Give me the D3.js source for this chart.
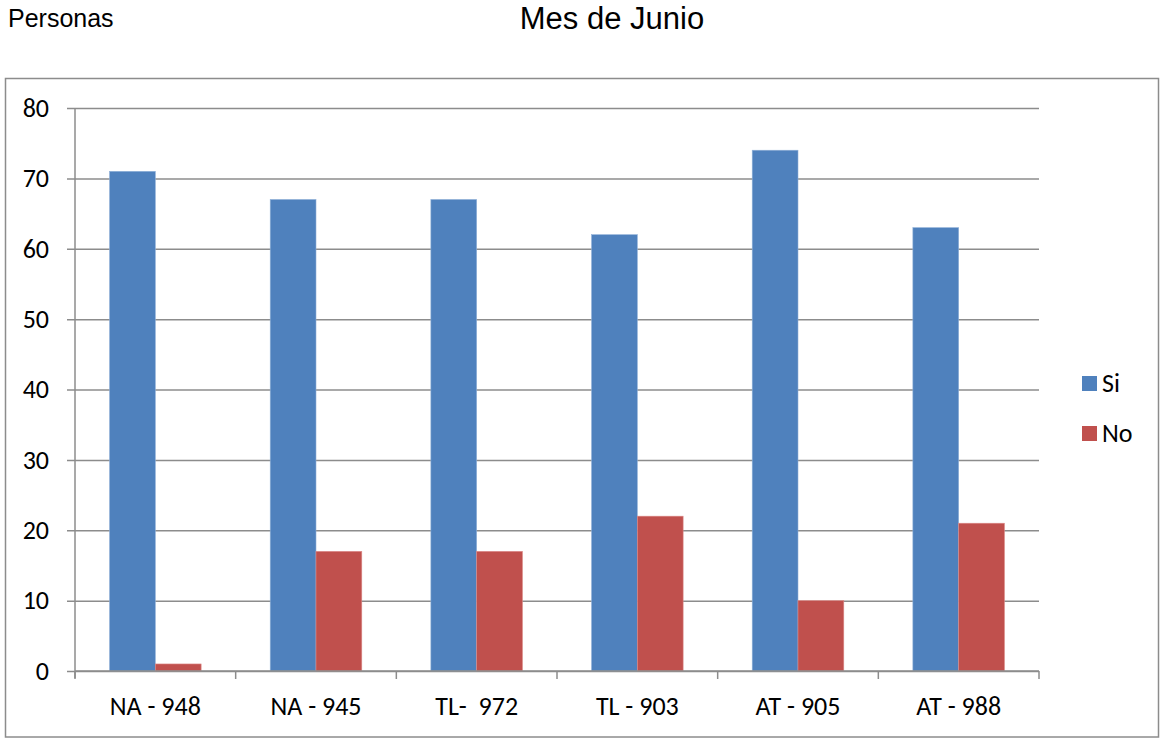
<!DOCTYPE html>
<html>
<head>
<meta charset="utf-8">
<script src="https://cdn.jsdelivr.net/npm/d3@7"></script>
<style>
  html, body { margin: 0; padding: 0; background: #fff; }
  svg { display: block; }
</style>
</head>
<body>
<svg id="chart" width="1160" height="739"></svg>
<script>
// Responses per route for June
const categories = ["NA - 948", "NA - 945", "TL-  972", "TL - 903", "AT - 905", "AT - 988"];
const seriesNames = ["Si", "No"];
const siValues = [71, 67, 67, 62, 74, 63];
const noValues = [1, 17, 17, 22, 10, 21];
const yTicks = [0, 10, 20, 30, 40, 50, 60, 70, 80];
const colors = ["#4F81BD", "#C0504D"];

const svg = d3.select("#chart");
const plot = { left: 75, right: 1039, top: 108, bottom: 671 };
const labelFont = "Carlito, Lato, 'Open Sans', sans-serif";
const labelSize = 26;

// outer frame
svg.append("rect")
  .attr("x", 5.5).attr("y", 78.5)
  .attr("width", 1153).attr("height", 658.5)
  .attr("fill", "none").attr("stroke", "#8c8c8c").attr("stroke-width", 1.5);

// titles
svg.append("text")
  .attr("x", 8).attr("y", 27)
  .attr("font-family", "'Liberation Sans', Arial, sans-serif")
  .attr("font-size", 25).attr("fill", "#000")
  .text("Personas");
svg.append("text")
  .attr("x", 612).attr("y", 29)
  .attr("text-anchor", "middle")
  .attr("font-family", "'Liberation Sans', Arial, sans-serif")
  .attr("font-size", 31).attr("fill", "#000")
  .text("Mes de Junio");

const y = d3.scaleLinear().domain([0, 80]).range([plot.bottom, plot.top]);
const x0 = d3.scaleBand().domain(categories).range([plot.left, plot.right]).paddingInner(0.43).paddingOuter(0.215);
const x1 = d3.scaleBand().domain(seriesNames).range([0, x0.bandwidth()]);

// gridlines with tick stubs on the left
const yAxis = d3.axisLeft(y).tickValues(yTicks).tickSize(-(plot.right - plot.left)).tickPadding(26);
const gy = svg.append("g").attr("transform", `translate(${plot.left},0)`).call(yAxis);
gy.select(".domain").remove();
gy.selectAll(".tick line")
  .attr("x1", -8)
  .attr("stroke", "#8c8c8c").attr("stroke-width", 1.5);
gy.selectAll(".tick text")
  .attr("font-family", labelFont).attr("font-size", labelSize).attr("fill", "#000");

// vertical axis line
svg.append("line")
  .attr("x1", plot.left).attr("x2", plot.left)
  .attr("y1", plot.top).attr("y2", plot.bottom + 7)
  .attr("stroke", "#8c8c8c").attr("stroke-width", 1.5);

// bars
const rows = categories.map((c, i) => ({ cat: c, vals: [siValues[i], noValues[i]] }));
const groups = svg.append("g").selectAll("g").data(rows).join("g")
  .attr("transform", d => `translate(${x0(d.cat)},0)`);
groups.selectAll("rect")
  .data(d => d.vals.map((v, j) => ({ key: seriesNames[j], v, j })))
  .join("rect")
  .attr("x", d => x1(d.key))
  .attr("y", d => y(d.v))
  .attr("width", x1.bandwidth())
  .attr("height", d => y(0) - y(d.v))
  .attr("fill", d => colors[d.j])
  .attr("stroke", d => d.j === 0 ? "#8fb0d8" : "#dc8a88")
  .attr("stroke-width", 0.6);

// category axis: boundary ticks and labels
const step = (plot.right - plot.left) / categories.length;
const boundaries = d3.range(categories.length + 1).map(i => plot.left + i * step);
svg.append("line")
  .attr("x1", plot.left).attr("x2", plot.right)
  .attr("y1", plot.bottom).attr("y2", plot.bottom)
  .attr("stroke", "#8c8c8c").attr("stroke-width", 1.5);
svg.append("g").selectAll("line").data(boundaries).join("line")
  .attr("x1", d => d).attr("x2", d => d)
  .attr("y1", plot.bottom).attr("y2", plot.bottom + 8)
  .attr("stroke", "#8c8c8c").attr("stroke-width", 1.5);
svg.append("g").selectAll("text").data(categories).join("text")
  .attr("x", d => x0(d) + x0.bandwidth() / 2)
  .attr("y", 715)
  .attr("text-anchor", "middle")
  .attr("font-family", labelFont).attr("font-size", labelSize).attr("fill", "#000")
  .style("white-space", "pre")
  .text(d => d);

// legend
const legend = svg.append("g").selectAll("g").data(seriesNames).join("g")
  .attr("transform", (d, i) => `translate(1082,${376 + i * 50})`);
legend.append("rect").attr("width", 15).attr("height", 15)
  .attr("fill", (d, i) => colors[i]);
legend.append("text").attr("x", 20).attr("y", 16)
  .attr("font-family", labelFont).attr("font-size", labelSize).attr("fill", "#000")
  .text(d => d);
</script>
</body>
</html>
